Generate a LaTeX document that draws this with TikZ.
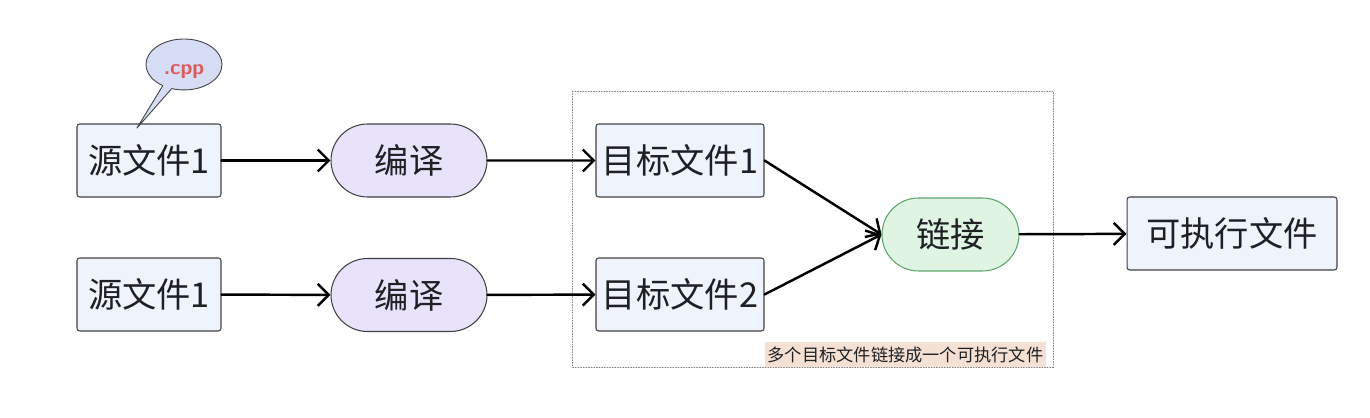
\documentclass[tikz,border=0pt]{standalone}
\usepackage{fontspec}
\setmainfont{Noto Sans CJK SC}
\usepackage{xcolor}
\usetikzlibrary{arrows.meta,shapes.misc,shapes.callouts}
\definecolor{filebg}{HTML}{EFF3FC}
\definecolor{stepbg}{HTML}{E9E2FB}
\definecolor{linkbg}{HTML}{DFF4E2}
\definecolor{linkline}{HTML}{5DA66B}
\definecolor{tipbg}{HTML}{D5DCF3}
\definecolor{tiptext}{HTML}{DE5B5B}
\definecolor{notebg}{HTML}{F4E1D4}
\definecolor{ink}{HTML}{1E2024}

\begin{document}
\begin{tikzpicture}[x=0.02cm,y=-0.02cm,line cap=round,line join=round,
  >={Straight Barb[length=2.2mm,width=4.4mm,line width=1.4pt]},
  filebox/.style={draw=ink!85,fill=filebg,line width=0.6pt,rounded corners=1.5pt,
    minimum height=1.46cm,inner sep=0pt,text=ink,font=\fontsize{19.5}{22}\selectfont},
  stepbox/.style={rounded rectangle,draw=ink!85,fill=stepbg,line width=0.6pt,
    minimum width=3.12cm,minimum height=1.46cm,inner sep=0pt,text=ink,
    font=\fontsize{19.5}{22}\selectfont},
  flow/.style={->,line width=1.4pt,draw=black}]
\useasboundingbox (0,0) rectangle (1370,418);
% group of the object files
\draw[densely dotted,draw=gray,line width=0.5pt] (572,91) rectangle (1053,367);
\node[fill=notebg,minimum width=5.62cm,minimum height=0.5cm,inner sep=0pt,text=ink,
  font=\fontsize{9.8}{11}\selectfont] (note) at (905.5,354.5) {多个目标文件链接成一个可执行文件};
% sources
\node[filebox,minimum width=2.88cm] (src1) at (149,160.5) {源文件1};
\node[filebox,minimum width=2.88cm] (src2) at (149,294.5) {源文件1};
\coordinate (tip) at (137,128);
\node[ellipse callout,callout absolute pointer={(tip)},draw=ink!85,fill=tipbg,line width=0.5pt,
  minimum width=1.52cm,minimum height=1.02cm,inner sep=0pt,text=tiptext,
  text height=0.5cm,text depth=0.1cm,
  font=\sffamily\bfseries\fontsize{12}{13}\selectfont] (cpp) at (184,64.5) {.cpp};
% compile steps
\node[stepbox] (cc1) at (409,160.5) {编译};
\node[stepbox] (cc2) at (409,295) {编译};
% object files
\node[filebox,minimum width=3.36cm] (obj1) at (680,160.5) {目标文件1};
\node[filebox,minimum width=3.36cm] (obj2) at (680,294.5) {目标文件2};
% link and result
\node[stepbox,fill=linkbg,draw=linkline,minimum width=2.74cm] (link) at (950.5,234.5) {链接};
\node[filebox,minimum width=4.2cm] (exe) at (1232,233.5) {可执行文件};
\draw[flow] (src1) -- (cc1);
\draw[flow] (src2) -- (cc2);
\draw[flow] (cc1) -- (obj1);
\draw[flow] (cc2) -- (obj2);
\draw[flow] (obj1.east) -- (link.west);
\draw[flow] (obj2.east) -- (link.west);
\draw[flow] (link) -- (exe);
\end{tikzpicture}
\end{document}
